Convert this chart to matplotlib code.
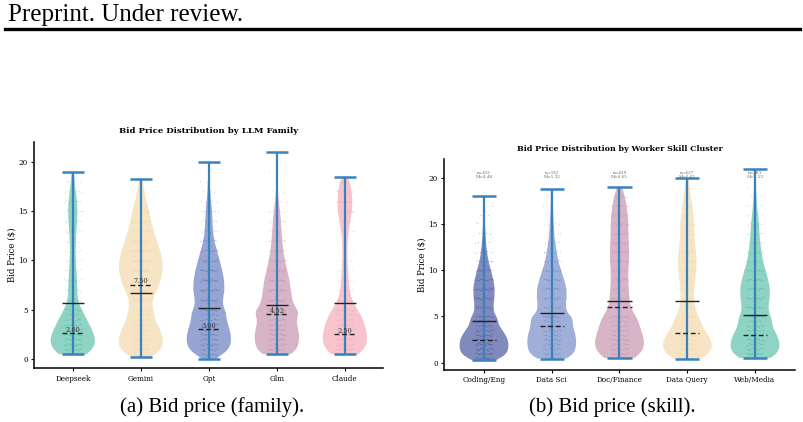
import numpy as np
import matplotlib
matplotlib.use("Agg")
import matplotlib.pyplot as plt
from matplotlib.lines import Line2D

plt.rcParams['font.family'] = ['DejaVu Serif']

# ---------------- data ----------------
price_levels = [0.5, 1, 1.5, 2, 2.5, 3, 3.5, 4, 4.5, 5, 6, 7, 8, 9, 10,
                11, 12, 13, 14, 15, 16, 17, 18, 19, 20]

family_names = ['Deepseek', 'Gemini', 'Gpt', 'Glm', 'Claude']
deepseek_counts = [22, 25, 27, 27, 25, 22, 19, 16, 12, 15, 11, 10, 10, 8, 7, 6, 7, 8, 10, 11, 10, 7, 4, 2, 0]
gemini_counts = [22, 24, 25, 25, 24, 21, 18, 15, 12, 21, 25, 35, 44, 48, 48, 42, 35, 28, 22, 19, 12, 8, 4, 0, 0]
gpt_counts = [21, 23, 25, 25, 25, 23, 21, 20, 16, 28, 31, 35, 34, 30, 24, 18, 12, 9, 8, 7, 5, 3, 2, 1, 1]
glm_counts = [21, 23, 24, 25, 25, 24, 22, 21, 20, 38, 34, 31, 28, 23, 18, 14, 12, 10, 9, 7, 4, 2, 1, 1, 1]
claude_counts = [22, 24, 25, 25, 25, 24, 22, 20, 16, 22, 14, 10, 8, 7, 6, 5, 6, 8, 12, 16, 17, 15, 12, 0, 0]
family_min = [0.5, 0.17, 0.03, 0.5, 0.5]
family_max = [19.0, 18.24, 20.0, 21.0, 18.5]
family_mean = [5.65, 6.73, 5.2, 5.45, 5.65]
family_median = [2.60, 7.50, 3.00, 4.52, 2.50]
family_median_labels = ['2.60', '7.50', '3.00', '4.52', '2.50']

skill_names = ['Coding/Eng', 'Data Sci', 'Doc/Finance', 'Data Query', 'Web/Media']
coding_counts = [22, 24, 25, 25, 25, 22, 19, 15, 11, 20, 19, 21, 22, 19, 14, 9, 6, 4, 3, 2, 2, 1, 1, 0, 0]
datasci_counts = [21, 23, 24, 25, 25, 24, 23, 21, 18, 31, 28, 30, 30, 25, 19, 13, 10, 7, 5, 4, 3, 2, 2, 0, 0]
docfin_counts = [21, 23, 24, 25, 25, 23, 21, 19, 17, 26, 21, 19, 18, 17, 17, 19, 19, 18, 17, 18, 16, 14, 11, 4, 0]
dataquery_counts = [20, 23, 25, 25, 24, 20, 16, 13, 11, 17, 14, 12, 13, 15, 17, 18, 17, 14, 13, 14, 12, 9, 7, 4, 2]
webmedia_counts = [21, 23, 25, 25, 24, 22, 19, 16, 14, 25, 26, 29, 30, 26, 21, 15, 13, 10, 9, 8, 6, 4, 3, 2, 1]
skill_min = [0.25, 0.43, 0.5, 0.43, 0.5]
skill_max = [18.0, 18.77, 19.0, 19.96, 20.94]
skill_mean = [4.48, 5.32, 6.65, 6.62, 5.13]
skill_median = [2.50, 3.95, 6.00, 3.25, 3.00]
skill_n = [431, 332, 429, 437, 383]

# ---------------- style ----------------
family_colors = ['#51bca3', '#f3d6a5', '#5e75ba', '#c28ca8', '#f3a5b1']
skill_colors = ['#3c4b98', '#6d84c2', '#c28ca8', '#f3d6a5', '#51bca3']
line_blue = '#3a82be'


def build(counts, lo, hi):
    vals = np.repeat(np.array(price_levels, dtype=float), counts)
    return np.concatenate([[lo], vals, [hi]])


def draw_panel(ax, names, datasets, colors, means, medians, width, title, tsize):
    pos = np.arange(len(names))
    parts = ax.violinplot(datasets, positions=pos, widths=width,
                          showextrema=True, bw_method=0.14)
    for body, c in zip(parts['bodies'], colors):
        body.set_facecolor(c)
        body.set_edgecolor('none')
        body.set_alpha(0.65)
        body.set_zorder(1)
    # jittered points
    for p, d, c in zip(pos, datasets, colors):
        k = np.arange(len(d))
        xo = ((k * 0.6180339) % 1.0 - 0.5) * 0.26
        yo = ((k * 0.7548776) % 1.0 - 0.5) * 0.2
        ax.scatter(p + xo, d + yo, s=1.0, color=c, alpha=0.28,
                   linewidths=0, zorder=2)
    for key in ('cbars', 'cmins', 'cmaxes'):
        parts[key].set_color(line_blue)
        parts[key].set_zorder(3)
    parts['cbars'].set_linewidth(1.6)
    parts['cmins'].set_linewidth(1.8)
    parts['cmaxes'].set_linewidth(1.8)
    half = 0.25 * width
    ax.hlines(means, pos - half, pos + half, colors='#222222', lw=1.0, zorder=4)
    ax.hlines(medians, pos - half, pos + half, colors='#222222', lw=1.0,
              linestyles=(0, (3.5, 2.0)), zorder=4)
    ax.set_xticks(pos)
    ax.set_xticklabels(names, fontsize=5.2)
    ax.set_yticks([0, 5, 10, 15, 20])
    ax.tick_params(axis='y', labelsize=5.2, length=2.5, width=0.8, pad=2)
    ax.tick_params(axis='x', length=2.5, width=0.8, pad=2)
    for s in ('top', 'right'):
        ax.spines[s].set_visible(False)
    for s in ('left', 'bottom'):
        ax.spines[s].set_linewidth(1.1)
    ax.set_ylabel('Bid Price ($)', fontsize=6.2, labelpad=1.5)
    ax.set_title(title, fontsize=tsize, fontweight='bold', pad=6)
    return pos


fig = plt.figure(figsize=(8.04, 4.22), dpi=100)

# left panel
ax1 = fig.add_axes([34 / 804, 1 - 368.4 / 422, (383 - 34) / 804, (368.4 - 141.7) / 422])
fam_data = [build(deepseek_counts, family_min[0], family_max[0]),
            build(gemini_counts, family_min[1], family_max[1]),
            build(gpt_counts, family_min[2], family_max[2]),
            build(glm_counts, family_min[3], family_max[3]),
            build(claude_counts, family_min[4], family_max[4])]
pos1 = draw_panel(ax1, family_names, fam_data, family_colors, family_mean,
                  family_median, 0.65, 'Bid Price Distribution by LLM Family', 6.1)
ax1.set_xlim(-0.57, 4.56)
ax1.set_ylim(-0.95, 22.05)
for p, m, lab in zip(pos1, family_median, family_median_labels):
    ax1.text(p, m + 0.38, lab, ha='center', va='center', fontsize=4.8,
             color='#333333', zorder=5)

# right panel
ax2 = fig.add_axes([444 / 804, 1 - 370 / 422, (795 - 444) / 804, (370 - 159) / 422])
sk_data = [build(coding_counts, skill_min[0], skill_max[0]),
           build(datasci_counts, skill_min[1], skill_max[1]),
           build(docfin_counts, skill_min[2], skill_max[2]),
           build(dataquery_counts, skill_min[3], skill_max[3]),
           build(webmedia_counts, skill_min[4], skill_max[4])]
pos2 = draw_panel(ax2, skill_names, sk_data, skill_colors, skill_mean,
                  skill_median, 0.72, 'Bid Price Distribution by Worker Skill Cluster', 5.8)
ax2.set_xlim(-0.59, 4.59)
ax2.set_ylim(-0.8, 22.05)
for p, n, m in zip(pos2, skill_n, skill_mean):
    ax2.text(p, 20.35, f'n={n}\nM={m:.2f}', ha='center', va='center',
             fontsize=3.0, color='#666666', linespacing=1.1, zorder=5)

# page decorations
fig.text(8 / 804, 1 - 15 / 422, 'Preprint. Under review.', fontsize=18,
         family='Liberation Serif', va='center', ha='left')
fig.add_artist(Line2D([5 / 804, 800 / 804], [1 - 29 / 422, 1 - 29 / 422],
                      transform=fig.transFigure, color='black', lw=2.4))
fig.text(212 / 804, 1 - 407 / 422, '(a) Bid price (family).', fontsize=15,
         family='Liberation Serif', ha='center', va='center')
fig.text(612 / 804, 1 - 407 / 422, '(b) Bid price (skill).', fontsize=15,
         family='Liberation Serif', ha='center', va='center')

fig.savefig('out.png', dpi=100)
